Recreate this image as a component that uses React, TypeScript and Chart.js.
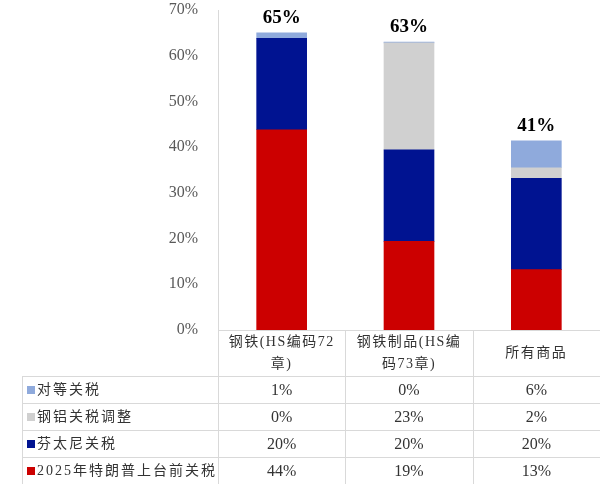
import React, { useEffect, useRef } from 'react'
import Chart from 'chart.js/auto'

// categories (x) – split into the lines they show in the table header
const categories = [['钢铁(HS编码72', '章)'], ['钢铁制品(HS编', '码73章)'], ['所有商品']]

// series, stacked bottom to top
const seriesNames = ['2025年特朗普上台前关税', '芬太尼关税', '钢铝关税调整', '对等关税']
const seriesColors = ['#CC0000', '#001391', '#D0D0D0', '#8FAADC']
const preTariff = [43.8, 19.4, 13.2]
const fentanyl = [20, 20, 20]
const steelAlu = [0, 23.4, 2.3]
const reciprocal = [1.2, 0.2, 5.9]

const yMax = 70
const yStep = 10

const serif = "'Liberation Serif', 'Noto Sans CJK SC', serif"
const gridColor = '#D9D9D9'
const textColor = '#333333'

const tablePlugin = {
  id: 'dataTable',
  afterDraw(chart: any) {
    const ctx = chart.ctx as CanvasRenderingContext2D
    const { left, right, top, bottom } = chart.chartArea
    const xs = chart.scales.x
    const H = chart.height
    const colW = (right - left) / categories.length
    const tableLeft = 22
    const catBottom = bottom + 46
    const rowH = (H - catBottom) / seriesNames.length
    const px = (v: number) => Math.round(v) + 0.5

    ctx.save()
    ctx.strokeStyle = gridColor
    ctx.lineWidth = 1
    const line = (x1: number, y1: number, x2: number, y2: number) => {
      ctx.beginPath()
      ctx.moveTo(x1, y1)
      ctx.lineTo(x2, y2)
      ctx.stroke()
    }
    // axis lines
    line(left, px(bottom), right, px(bottom))
    line(px(left), top, px(left), H)
    for (let i = 1; i < categories.length; i++) {
      line(px(left + i * colW), bottom, px(left + i * colW), H)
    }
    for (let r = 0; r < seriesNames.length; r++) {
      const y = px(catBottom + r * rowH)
      line(tableLeft, y, right, y)
    }
    line(px(tableLeft), catBottom, px(tableLeft), H)

    // category header
    ctx.fillStyle = textColor
    ctx.textAlign = 'center'
    ctx.textBaseline = 'middle'
    ctx.font = `14px ${serif}`
    ;(ctx as any).letterSpacing = '1.5px'
    categories.forEach((lines, i) => {
      const cx = xs.getPixelForValue(i)
      const midY = (bottom + catBottom) / 2
      lines.forEach((t, k) => {
        ctx.fillText(t, cx, midY + (k - (lines.length - 1) / 2) * 22)
      })
    })

    // table rows, top row is the last series
    const series = [preTariff, fentanyl, steelAlu, reciprocal]
    for (let r = 0; r < seriesNames.length; r++) {
      const s = seriesNames.length - 1 - r
      const cy = catBottom + r * rowH + rowH / 2
      ctx.fillStyle = seriesColors[s]
      ctx.fillRect(27, Math.round(cy - 4), 8, 8)
      ctx.fillStyle = textColor
      ctx.textAlign = 'left'
      ctx.font = `14px ${serif}`
      ;(ctx as any).letterSpacing = '2px'
      ctx.fillText(seriesNames[s], 37, cy + 1)
      ;(ctx as any).letterSpacing = '0px'
      ctx.textAlign = 'center'
      ctx.font = `16px ${serif}`
      series[s].forEach((v, i) => {
        ctx.fillText(Math.round(v) + '%', xs.getPixelForValue(i), cy + 1)
      })
    }

    // totals above bars
    const topMeta = chart.getDatasetMeta(series.length - 1)
    ctx.font = `bold 19px ${serif}`
    ctx.fillStyle = '#000000'
    ctx.textBaseline = 'bottom'
    categories.forEach((_, i) => {
      const total = series.reduce((a, s) => a + s[i], 0)
      const el = topMeta.data[i]
      ctx.fillText(Math.round(total) + '%', el.x, el.y - 5)
    })
    ctx.restore()
  },
}

export default function App() {
  const canvasRef = useRef<HTMLCanvasElement | null>(null)
  const chartRef = useRef<Chart | null>(null)

  useEffect(() => {
    document.body.style.margin = '0'
    if (!canvasRef.current) return
    const series = [preTariff, fentanyl, steelAlu, reciprocal]
    chartRef.current = new Chart(canvasRef.current, {
      type: 'bar',
      data: {
        labels: categories.map((c) => c.join('')),
        datasets: seriesNames.map((name, i) => ({
          label: name,
          data: series[i],
          backgroundColor: seriesColors[i],
          barThickness: 50,
        })),
      },
      options: {
        animation: false,
        responsive: true,
        maintainAspectRatio: false,
        layout: { padding: { top: 10, bottom: 154, right: 0, left: 0 } },
        plugins: {
          legend: { display: false },
          tooltip: { enabled: false },
        },
        scales: {
          x: { stacked: true, display: false },
          y: {
            stacked: true,
            min: 0,
            max: yMax,
            grid: { display: false },
            border: { display: false },
            ticks: {
              stepSize: yStep,
              padding: 12,
              color: '#595959',
              font: { family: serif, size: 16 },
              callback: (v: any) => v + '%',
            },
            afterFit: (scale: any) => {
              scale.width = 218
              scale.paddingTop = 0
              scale.paddingBottom = 0
            },
          },
        },
      },
      plugins: [tablePlugin],
    })
    return () => {
      chartRef.current?.destroy()
      chartRef.current = null
    }
  }, [])

  return (
    <div style={{ position: 'relative', width: 600, height: 484, background: '#fff' }}>
      <canvas ref={canvasRef} />
    </div>
  )
}
